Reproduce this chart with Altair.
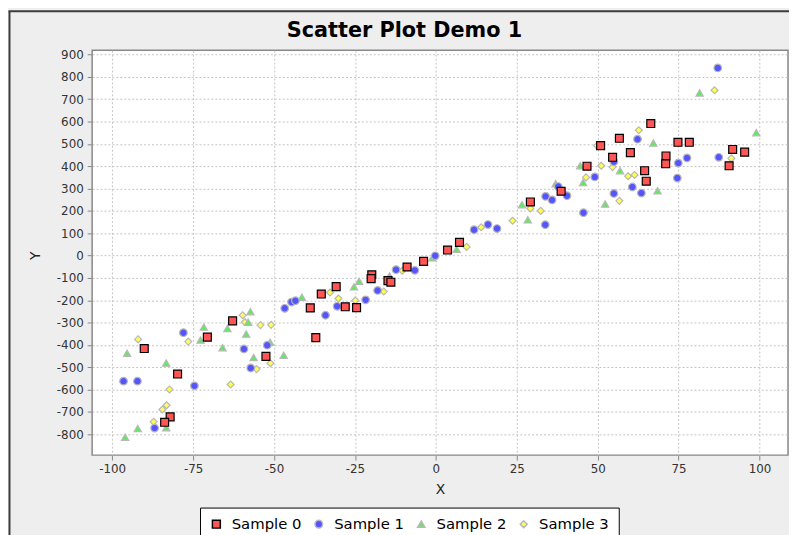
import altair as alt
import pandas as pd

series_names = ["Sample 0", "Sample 1", "Sample 2", "Sample 3"]

s0_x = [-90.1, -79.8, -82.1, -83.8, -70.6, -62.8, -52.5, -38.8, -35.4, -37.1, -30.8, -28.0, -24.5,
        -19.8, -20.0, -14.8, -13.9, -8.9, -3.8, 3.6, 7.3, 29.2, 38.7, 46.7, 50.9, 56.7, 54.6, 60.1,
        66.4, 64.5, 65.0, 71.1, 71.0, 74.8, 78.3, 91.7, 95.4, 90.6]
s0_y = [-416, -530, -722, -746, -365, -292, -451, -234, -172, -367, -139, -229, -233,
        -86, -103, -112, -119, -51, -26, 25, 59, 240, 288, 400, 492, 525, 440, 461,
        591, 380, 333, 446, 411, 507, 507, 475, 463, 402]

s1_x = [-96.5, -92.2, -74.6, -86.9, -78.0, -59.3, -52.1, -57.2, -46.7, -44.6, -43.4, -34.1, -30.5,
        -21.7, -18.0, -12.3, -6.5, -0.2, 11.8, 16.1, 18.9, 33.9, 35.9, 33.8, 37.8, 40.5, 45.6,
        49.1, 55.0, 55.0, 60.7, 63.5, 62.3, 74.9, 77.6, 74.6, 87.4, 87.1]
s1_y = [-562, -562, -583, -772, -345, -418, -401, -503, -236, -208, -202, -267, -227,
        -198, -156, -63, -66, -1, 116, 139, 121, 265, 249, 138, 309, 268, 192,
        352, 420, 278, 307, 280, 521, 414, 437, 347, 440, 840]

s2_x = [-95.4, -83.3, -83.3, -92.1, -96.0, -71.7, -72.7, -65.9, -64.4, -57.3, -58.0, -58.6, -51.2,
        -56.3, -47.0, -41.4, -25.3, -23.7, -14.3, -1.1, 6.4, 26.6, 28.4, 37.0, 44.6, 45.5, 52.3,
        56.9, 67.2, 68.5, 81.5, 99.0]
s2_y = [-437, -481, -770, -774, -813, -320, -378, -412, -326, -251, -298, -351, -388,
        -456, -446, -186, -140, -115, -91, -10, 28, 228, 160, 322, 402, 327, 231,
        380, 504, 290, 728, 550]

s3_x = [-92.0, -82.3, -83.2, -84.5, -87.2, -76.5, -63.4, -59.7, -59.0, -54.2, -50.9, -55.4, -51.1,
        -32.7, -30.1, -24.9, -16.1, -10.4, 9.5, 14.0, 23.7, 29.2, 32.4, 46.4, 49.8, 51.1, 54.6,
        56.7, 59.4, 61.4, 62.7, 86.1, 91.3]
s3_y = [-375, -599, -670, -689, -744, -385, -577, -267, -298, -311, -310, -508, -482,
        -165, -192, -201, -161, -68, 39, 127, 156, 211, 200, 350, 492, 402, 396,
        245, 355, 361, 561, 740, 435]

x_ticks = [-100, -75, -50, -25, 0, 25, 50, 75, 100]
y_ticks = [-800, -700, -600, -500, -400, -300, -200, -100, 0, 100, 200, 300, 400, 500, 600, 700, 800, 900]

# draw order: Sample 3 first, Sample 0 last (on top)
rows = []
for name, xs, ys in [("Sample 3", s3_x, s3_y), ("Sample 2", s2_x, s2_y),
                     ("Sample 1", s1_x, s1_y), ("Sample 0", s0_x, s0_y)]:
    for xv, yv in zip(xs, ys):
        rows.append({"series": name, "x": xv, "y": yv})
df = pd.DataFrame(rows)

fills = ["#ff5555", "#5555ff", "#5cec5c", "#ffff55"]
strokes = ["#000000", "#b8b8b8", "#b8b8b8", "#b8b8b8"]
shapes = ["square", "circle", "triangle-up", "diamond"]
sizes = [64, 49, 64, 56]

points = alt.Chart(df).mark_point(filled=True, opacity=1, strokeWidth=1.2).encode(
    x=alt.X("x:Q", title="X",
            scale=alt.Scale(domain=[-106.2, 108.8], nice=False, zero=False),
            axis=alt.Axis(values=x_ticks, labelExpr="'' + datum.value",
                          titleY=35, titleBaseline="middle")),
    y=alt.Y("y:Q", title="Y",
            scale=alt.Scale(domain=[-893, 919], nice=False, zero=False),
            axis=alt.Axis(values=y_ticks, labelExpr="'' + datum.value", titleX=-57, titleY=207,
                          titleAngle=270, titleBaseline="middle", titleAlign="center")),
    fill=alt.Fill("series:N", scale=alt.Scale(domain=series_names, range=fills), title=None),
    stroke=alt.Stroke("series:N", scale=alt.Scale(domain=series_names, range=strokes), title=None),
    shape=alt.Shape("series:N", scale=alt.Scale(domain=series_names, range=shapes), title=None),
    size=alt.Size("series:N", scale=alt.Scale(domain=series_names, range=sizes), title=None),
)

frame = pd.DataFrame({"k": [0]})
left_border = alt.Chart(frame).mark_rule(color="#3c3c3c", strokeWidth=2).encode(
    x=alt.value(-83.5), y=alt.value(-39.5), y2=alt.value(600))
top_border = alt.Chart(frame).mark_rule(color="#3c3c3c", strokeWidth=2).encode(
    x=alt.value(-84.5), x2=alt.value(800), y=alt.value(-39.5))

chart = alt.layer(points, left_border, top_border).properties(
    width=703,
    height=409,
    autosize=alt.AutoSizeParams(type="none"),
    padding={"left": 85, "top": 40, "right": 1, "bottom": 78},
    title=alt.TitleParams("Scatter Plot Demo 1", font="DejaVu Sans", fontSize=21,
                          fontWeight="bold", color="black", anchor="middle",
                          dx=-36, baseline="alphabetic", offset=-48),
).configure(
    background="#eeeeee", font="DejaVu Sans"
).configure_view(
    stroke="#888888", strokeWidth=1.5, fill="white"
).configure_axis(
    grid=True, gridColor="#c4c4c4", gridDash=[2, 2], gridWidth=1,
    domain=False, tickColor="#888888", tickSize=5, labelPadding=4,
    labelFont="DejaVu Sans", labelFontSize=12, labelColor="#333333",
    titleFont="DejaVu Sans", titleFontSize=14, titleFontWeight="normal", titleColor="#222222",
).configure_legend(
    orient="none", legendX=109, legendY=462, direction="horizontal",
    strokeColor="black", fillColor="white", padding=9,
    labelFont="DejaVu Sans", labelFontSize=15, labelColor="black",
    labelOffset=8, columnPadding=9.5,
)

chart.save("out.html", embed_options={"renderer": "svg", "actions": False})
